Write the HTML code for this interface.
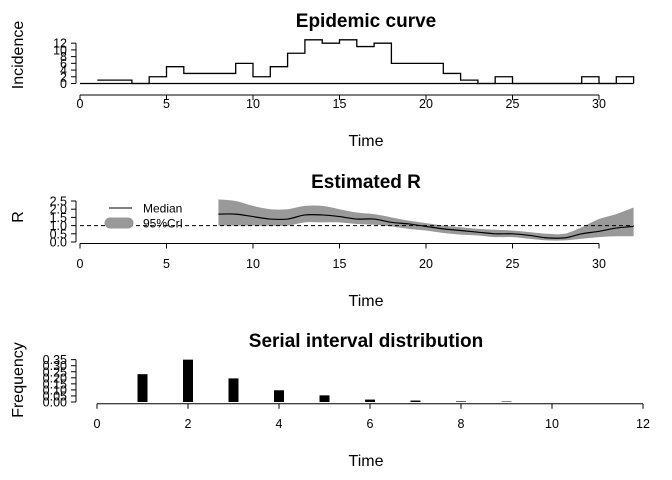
<!DOCTYPE html>
<html><head><meta charset="utf-8"><style>
html,body{margin:0;padding:0;background:#fff}
svg{display:block;font-family:"Liberation Sans",Arial,sans-serif}
</style></head><body>
<svg id="c" width="672" height="480" xmlns="http://www.w3.org/2000/svg"></svg>
<script>
// Epidemic curve data
const incDays = [1,2,3,4,5,6,7,8,9,10,11,12,13,14,15,16,17,18,19,20,21,22,23,24,25,26,27,28,29,30,31];
const incValues = [1,1,0,2,5,3,3,3,6,2,5,9,13,12,13,11,12,6,6,6,3,1,0,2,0,0,0,0,2,0,2];
const incTicks = [0,2,4,6,8,10,12];
const timeTicks = [0,5,10,15,20,25,30];
// Estimated R data
const rDays = [8,9,10,11,12,13,14,15,16,17,18,19,20,21,22,23,24,25,26,27,28,29,30,31,32];
const rMedian = [1.7,1.7,1.55,1.4,1.4,1.65,1.65,1.55,1.4,1.4,1.2,1.1,0.95,0.8,0.7,0.6,0.5,0.5,0.4,0.25,0.25,0.5,0.65,0.85,0.95];
const rUpper = [2.6,2.5,2.2,2.0,2.0,2.2,2.2,2.0,1.8,1.7,1.5,1.3,1.15,1.0,0.9,0.8,0.75,0.7,0.6,0.5,0.5,0.9,1.4,1.7,2.1];
const rLower = [1.0,1.0,1.0,1.0,1.0,1.2,1.2,1.2,1.1,1.05,0.95,0.8,0.7,0.55,0.45,0.4,0.3,0.3,0.2,0.1,0.1,0.2,0.3,0.35,0.35];
const rTicks = [0,0.5,1,1.5,2,2.5];
// Serial interval data
const siDays = [1,2,3,4,5,6,7,8,9];
const siValues = [0.23,0.35,0.195,0.097,0.055,0.02,0.012,0.005,0.004];
const siTicks = [0,0.05,0.1,0.15,0.2,0.25,0.3,0.35];
const siXTicks = [0,2,4,6,8,10,12];

const svg = document.getElementById('c');
const NS = 'http://www.w3.org/2000/svg';
function mk(tag, attrs, parent){const e=document.createElementNS(NS,tag);for(const k in attrs)e.setAttribute(k,attrs[k]);(parent||svg).appendChild(e);return e;}
function txt(s, attrs, parent){const e=mk('text',attrs,parent);e.textContent=s;return e;}

const xA = t => 80 + t*17.3;
const yInc = v => 83.5 - v*3.36;
const yR = v => 242 - v*16.4;
const xS = t => 97 + t*45.5;
const yS = v => 402 - v*121;

// smooth path through points (Catmull-Rom)
function smooth(pts){
  let d=`M${pts[0][0]},${pts[0][1]}`;
  for(let i=0;i<pts.length-1;i++){
    const p0=pts[Math.max(0,i-1)],p1=pts[i],p2=pts[i+1],p3=pts[Math.min(pts.length-1,i+2)];
    const c1=[p1[0]+(p2[0]-p0[0])/6,p1[1]+(p2[1]-p0[1])/6];
    const c2=[p2[0]-(p3[0]-p1[0])/6,p2[1]-(p3[1]-p1[1])/6];
    d+=` C${c1[0]},${c1[1]} ${c2[0]},${c2[1]} ${p2[0]},${p2[1]}`;
  }
  return d;
}

function panel(name,title,ty,ylab,ylabY,g){
  const t=txt(title,{x:366,y:ty,'text-anchor':'middle','font-size':19,'font-weight':'bold'},g);
  
  
  const yl=txt(ylab,{x:0,y:0,'text-anchor':'middle','font-size':16,transform:`translate(23,${ylabY}) rotate(-90)`},g);
  
  
}
function xAxis(name,g,ticks,xf,y,labY,titleY){
  const a=mk('g',{},g);
  
  
  mk('line',{x1:xf(ticks[0]),x2:xf(ticks[ticks.length-1]),y1:y,y2:y,stroke:'#000','stroke-width':1},a);
  ticks.forEach(t=>{mk('line',{x1:xf(t),x2:xf(t),y1:y,y2:y+5,stroke:'#000'},a);
    txt(String(t),{x:xf(t),y:labY,'text-anchor':'middle','font-size':12.5},a);});
  const tt=txt('Time',{x:366,y:titleY,'text-anchor':'middle','font-size':16},g);
  
  
}
function yAxis(name,g,ticks,yf,fmt){
  const a=mk('g',{},g);
  
  
  const x=76;
  mk('line',{x1:x,x2:x,y1:yf(ticks[0]),y2:yf(ticks[ticks.length-1]),stroke:'#000'},a);
  ticks.forEach(t=>{mk('line',{x1:x-5,x2:x,y1:yf(t),y2:yf(t),stroke:'#000'},a);
    txt(fmt(t),{x:67,y:yf(t)+4.5,'text-anchor':'end','font-size':12.5},a);});
}

// Panel 1
const g1=mk('g',{});


panel('epidemic-curve','Epidemic curve',27,'Incidence',55,g1);
let d=`M${xA(incDays[0])},${yInc(incValues[0])}`;
incDays.forEach((t,i)=>{ if(i>0) d+=` L${xA(t)},${yInc(incValues[i])}`; d+=` L${xA(t+1)},${yInc(incValues[i])}`;});
d+=` L${xA(incDays[incDays.length-1]+1)},${yInc(0)}`;
const step=mk('path',{d:d,fill:'none',stroke:'#000','stroke-width':1.3},g1);


mk('line',{x1:xA(0),x2:xA(incDays[incDays.length-1]+1),y1:yInc(0),y2:yInc(0),stroke:'#000','stroke-width':1.3},g1);
yAxis('epidemic-curve',g1,incTicks,yInc,v=>String(v));
xAxis('epidemic-curve',g1,timeTicks,xA,95,108,146);

// Panel 2
const g2=mk('g',{});


panel('estimated-r','Estimated R',188,'R',217,g2);
const up=rDays.map((t,i)=>[xA(t),yR(rUpper[i])]);
const lo=rDays.map((t,i)=>[xA(t),yR(rLower[i])]).reverse();
let bd=smooth(up)+' L'+lo[0][0]+','+lo[0][1]+' '+smooth(lo).slice(1).replace(/^[^C]*/,'')+' Z';
const band=mk('path',{d:bd,fill:'#999',stroke:'none'},g2);


const med=mk('path',{d:smooth(rDays.map((t,i)=>[xA(t),yR(rMedian[i])])),fill:'none',stroke:'#000','stroke-width':1.2},g2);


const thr=mk('line',{x1:xA(0),x2:xA(32),y1:yR(1),y2:yR(1),stroke:'#000','stroke-dasharray':'4,3'},g2);


const lg=mk('g',{},g2);


mk('line',{x1:109,x2:132,y1:208,y2:208,stroke:'#000'},lg);
txt('Median',{x:143,y:212.5,'font-size':12},lg);
mk('line',{x1:110,x2:128,y1:223,y2:223,stroke:'#999','stroke-width':11,'stroke-linecap':'round'},lg);
txt('95%CrI',{x:143,y:227.5,'font-size':12},lg);
yAxis('estimated-r',g2,rTicks,yR,v=>v.toFixed(1));
xAxis('estimated-r',g2,timeTicks,xA,243.5,268,306);

// Panel 3
const g3=mk('g',{});


panel('serial-interval','Serial interval distribution',347,'Frequency',380,g3);
siDays.forEach((t,i)=>{
  const b=mk('rect',{x:xS(t)-5,y:yS(siValues[i]),width:10,height:yS(0)-yS(siValues[i]),fill:'#000'},g3);
  
  
});
yAxis('serial-interval',g3,siTicks,yS,v=>v.toFixed(2));
xAxis('serial-interval',g3,siXTicks,xS,403.7,428,466);
</script>
</body></html>
